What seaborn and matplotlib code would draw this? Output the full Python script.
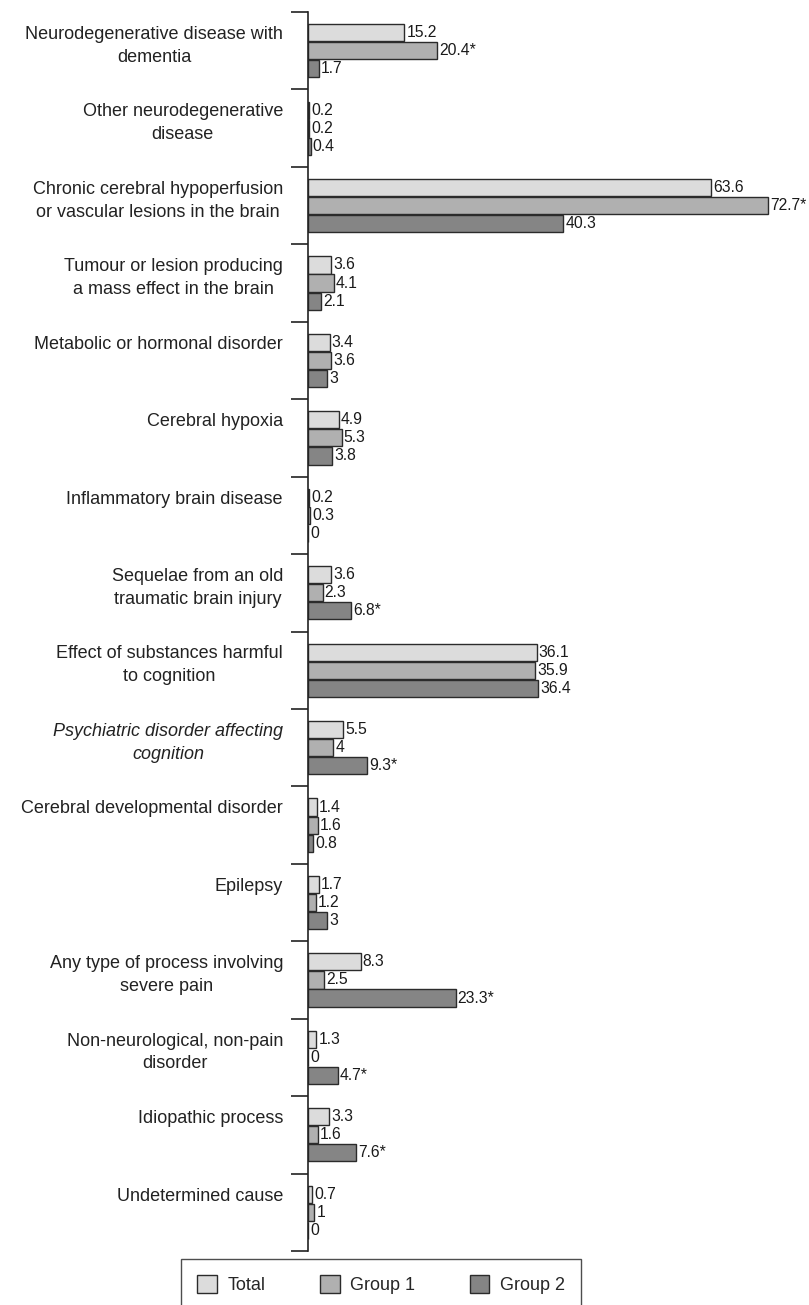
import matplotlib
matplotlib.use("Agg")
import matplotlib.pyplot as plt
import matplotlib.transforms as mtransforms
import seaborn as sns
import pandas as pd
from matplotlib.patches import Patch
from matplotlib.ticker import FixedLocator

causes = [
    "Neurodegenerative disease with\ndementia",
    "Other neurodegenerative\ndisease",
    "Chronic cerebral hypoperfusion\nor vascular lesions in the brain",
    "Tumour or lesion producing\na mass effect in the brain",
    "Metabolic or hormonal disorder",
    "Cerebral hypoxia",
    "Inflammatory brain disease",
    "Sequelae from an old\ntraumatic brain injury",
    "Effect of substances harmful\nto cognition",
    "Psychiatric disorder affecting\ncognition",
    "Cerebral developmental disorder",
    "Epilepsy",
    "Any type of process involving\nsevere pain",
    "Non-neurological, non-pain\ndisorder",
    "Idiopathic process",
    "Undetermined cause",
]
groups = ["Total", "Group 1", "Group 2"]

total = [15.2, 0.2, 63.6, 3.6, 3.4, 4.9, 0.2, 3.6, 36.1, 5.5, 1.4, 1.7, 8.3, 1.3, 3.3, 0.7]
group1 = [20.4, 0.2, 72.7, 4.1, 3.6, 5.3, 0.3, 2.3, 35.9, 4, 1.6, 1.2, 2.5, 0, 1.6, 1]
group2 = [1.7, 0.4, 40.3, 2.1, 3, 3.8, 0, 6.8, 36.4, 9.3, 0.8, 3, 23.3, 4.7, 7.6, 0]

# significant differences marked with *
sig1 = [0, 2]
sig2 = [7, 9, 12, 13, 14]

colors = ["#dcdcdc", "#b0b0b0", "#858585"]

rows = []
for g, vals in zip(groups, [total, group1, group2]):
    for c, v in zip(causes, vals):
        rows.append({"cause": c, "group": g, "pct": v})
df = pd.DataFrame(rows)

sns.set_style("white")
plt.rcParams["font.family"] = ["Liberation Sans", "DejaVu Sans"]

fig = plt.figure(figsize=(8.09, 13.05), dpi=100)
ax = fig.add_axes([308 / 809, 1 - 1251 / 1305, 492 / 809, (1251 - 12) / 1305])

sns.barplot(data=df, y="cause", x="pct", hue="group", orient="h",
            palette=colors, edgecolor="#2b2b2b", linewidth=1.0,
            width=0.7, gap=0.05, legend=False, ax=ax)

def fmt(v):
    return "%g" % v

for i, cont in enumerate(ax.containers):
    vals = [total, group1, group2][i]
    labs = []
    for j, v in enumerate(vals):
        s = fmt(v)
        if (i == 1 and j in sig1) or (i == 2 and j in sig2):
            s += "*"
        labs.append(s)
    ax.bar_label(cont, labels=labs, padding=1.5, fontsize=11.3, color="#1a1a1a")

ax.set_xlim(0, 77.7)
ax.set_ylim(len(causes) - 0.5, -0.5)
ax.set_xlabel("")
ax.set_ylabel("")
ax.xaxis.set_visible(False)
for s in ["top", "right", "bottom"]:
    ax.spines[s].set_visible(False)
ax.spines["left"].set_color("#222222")
ax.spines["left"].set_linewidth(1.2)

ax.yaxis.set_minor_locator(FixedLocator([k - 0.5 for k in range(len(causes) + 1)]))
ax.tick_params(axis="y", which="minor", left=True, length=12, width=1.2, color="#222222")
ax.tick_params(axis="y", which="major", left=False, length=0, labelleft=False)

# category labels: first line level with the top bar of each group
lab_tr = ax.get_yaxis_transform() + mtransforms.ScaledTranslation(-25 / 100, 0, fig.dpi_scale_trans)
for k, c in enumerate(causes):
    ax.text(0, k - 0.32, c, transform=lab_tr, ha="right", va="top",
            multialignment="center", linespacing=1.45, fontsize=13,
            color="#222222", style="italic" if k == 9 else "normal")

handles = [Patch(facecolor=c, edgecolor="#2b2b2b", linewidth=1.0) for c in colors]
leg = fig.legend(handles, groups, loc="upper center", bbox_to_anchor=(381 / 809, 1 - 1259 / 1305),
                 ncol=3, frameon=True, fancybox=False, fontsize=13,
                 handlelength=1.1, handleheight=1.1, handletextpad=0.6,
                 columnspacing=3.0, borderpad=0.9, borderaxespad=0)
leg.get_frame().set_edgecolor("#222222")
leg.get_frame().set_linewidth(1.0)

fig.savefig("out.png", dpi=100)
